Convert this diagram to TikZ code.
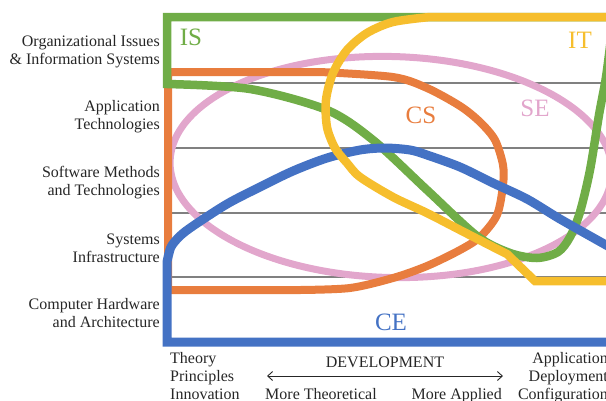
\documentclass[tikz,border=0pt]{standalone}
\usepackage{fontspec}
\setmainfont{Liberation Serif}
\usetikzlibrary{arrows.meta}
\definecolor{isgreen}{HTML}{70AD47}
\definecolor{csorange}{HTML}{E87D3E}
\definecolor{ceblue}{HTML}{4472C4}
\definecolor{itgold}{HTML}{F6BE2D}
\definecolor{sepink}{HTML}{E2A6CC}

\begin{document}
\begin{tikzpicture}[x=1pt,y=-1pt,
  rowlabel/.style={anchor=east, align=right, inner sep=0pt,
    font=\fontsize{16}{18}\selectfont, text=black!85},
  axislabel/.style={inner sep=0pt, font=\fontsize{16}{18}\selectfont, text=black!85},
  field/.style={inner sep=0pt, font=\fontsize{25}{25}\selectfont}]
\useasboundingbox (0,0) rectangle (606,400);

% row separators
\foreach \y in {83,148,213,277}
  \draw[black!50, line width=1.3pt] (172,\y) -- (606,\y);

% SE
\draw[sepink, line width=7pt, rotate around={-1.5:(391,167)}]
  (391,167) ellipse [x radius=221pt, y radius=110.5pt];
% CS
\draw[csorange, line width=8pt]
  (168,290) -- (168,72) -- plot[smooth] coordinates {(320,72) (393,77) (427,88)
  (460,106) (480,122) (495,140) (503,165) (503,185) (497,215) (480,237) (460,250)
  (427,266) (393,278) (350,288) (300,290)} -- cycle;
% IS
\draw[isgreen, line width=8.5pt]
  (640,17) -- (167,17) -- plot[smooth] coordinates {(167,84) (250,89) (327,110)
  (373,140) (427,190) (477,236) (510,253) (537,258) (558,252) (570,237)
  (580,212) (590,170) (599,115) (606,77) (612,30)};
% CE
\draw[ceblue, line width=9pt]
  (640,342) -- (167,342) -- plot[smooth] coordinates {(167,262) (171,247) (180,236)
  (193,226) (227,204) (260,187) (293,171) (327,158) (360,150) (385,148) (410,150)
  (427,155) (460,167) (493,183) (527,199) (560,219) (606,245) (640,264)};
% IT
\draw[itgold, line width=8.5pt]
  (640,17) -- plot[smooth] coordinates {(430,17) (393,22) (367,33) (347,50) (333,73)
  (326,100) (327,127) (335,148) (347,163) (360,177) (393,197) (427,213) (460,230)
  (493,247) (507,254)} -- (535,281) -- (640,281);

\node[field, text=isgreen] (is) at (191,37) {IS};
\node[field, text=itgold] (it) at (580,40) {IT};
\node[field, text=csorange] (cs) at (421,115) {CS};
\node[field, text=sepink] (se) at (535,108) {SE};
\node[field, text=ceblue] (ce) at (391,322) {CE};

\node[rowlabel] (org) at (160,52) {Organizational Issues\\\& Information Systems};
\node[rowlabel] (app) at (160,117) {Application\\Technologies};
\node[rowlabel] (sw) at (160,183) {Software Methods\\and Technologies};
\node[rowlabel] (sys) at (160,248) {Systems\\Infrastructure};
\node[rowlabel] (hw) at (160,313) {Computer Hardware\\and Architecture};

\node[axislabel, anchor=north west, align=left] (theory) at (170,352)
  {Theory\\Principles\\Innovation};
\node[axislabel, anchor=north east, align=right] (applied) at (608,352)
  {Application\\Deployment\\Configuration};
\node[axislabel, anchor=base] (dev) at (385,367) {DEVELOPMENT};
\node[axislabel, anchor=base west] (moretheo) at (265,399) {More Theoretical};
\node[axislabel, anchor=base east] (moreapp) at (502,399) {More Applied};

\coordinate (devl) at (267,376);
\coordinate (devr) at (503,376);
\draw[{Straight Barb[length=5pt,width=9pt]}-{Straight Barb[length=5pt,width=9pt]}, line width=0.9pt, black!85]
  (devl) -- (devr);
\end{tikzpicture}
\end{document}
